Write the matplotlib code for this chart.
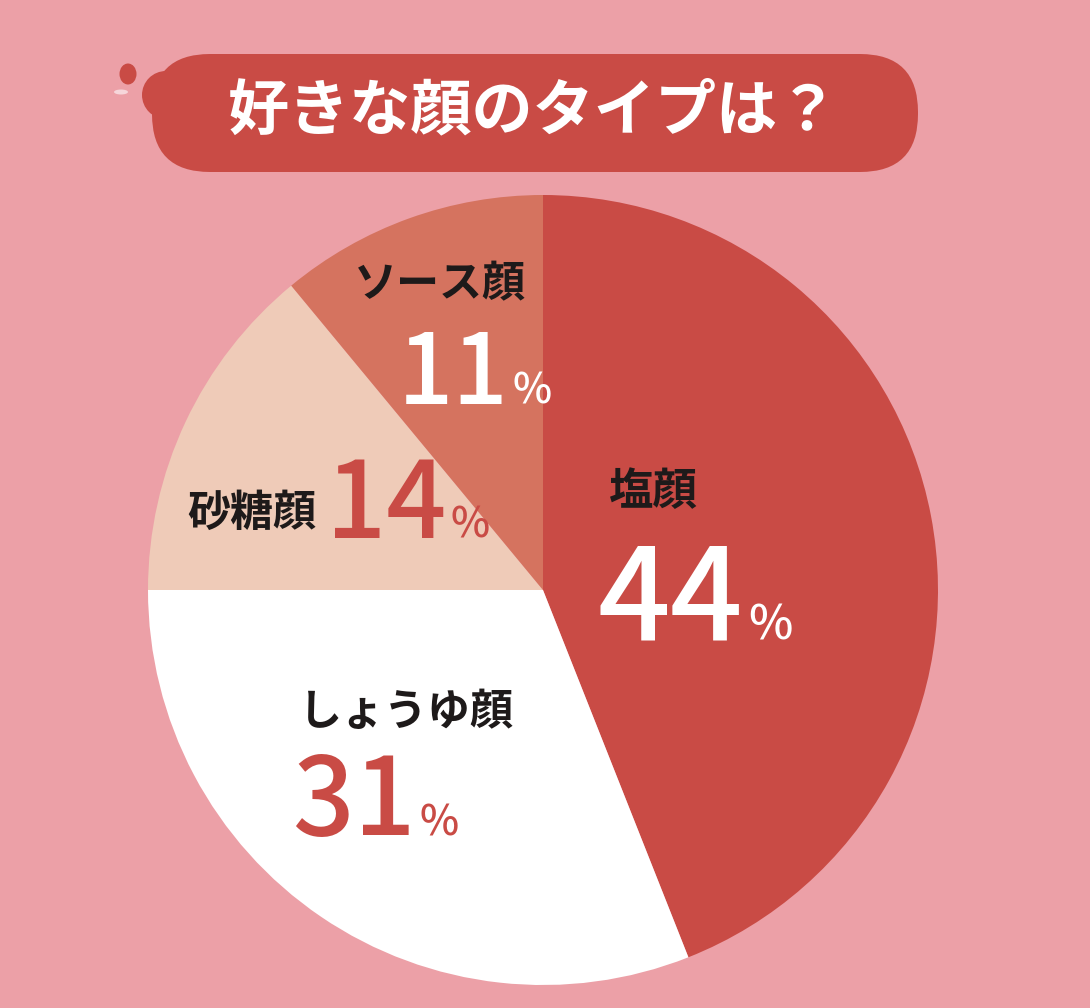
import matplotlib.pyplot as plt
from matplotlib.patches import FancyBboxPatch, Circle, Ellipse

plt.rcParams['font.family'] = ['Noto Sans CJK JP', 'DejaVu Sans']

title = '好きな顔のタイプは？'
labels = ['塩顔', 'しょうゆ顔', '砂糖顔', 'ソース顔']
values = [44, 31, 14, 11]
colors = ['#C94B45', '#FFFFFF', '#EFCBB8', '#D5735F']

bg = '#ECA0A7'
red = '#C94B45'
ink = '#1E1A1A'

W, H = 1090, 1008
fig = plt.figure(figsize=(W / 100, H / 100), dpi=100)
fig.patch.set_facecolor(bg)
ax = fig.add_axes([0, 0, 1, 1])

# pie, clockwise from 12 o'clock
ax.pie(values, colors=colors, startangle=90, counterclock=False,
       center=(543, H - 590), radius=395, wedgeprops={'linewidth': 0},
       frame=True)
ax.set_xlim(0, W)
ax.set_ylim(0, H)
ax.set_aspect('equal')
ax.axis('off')

# title bubble
ax.add_patch(FancyBboxPatch((152, H - 172), 766, 118,
                            boxstyle='round,pad=0,rounding_size=58',
                            fc=red, ec='none'))
ax.add_patch(Circle((166, H - 95), 24, fc=red, ec='none'))
ax.add_patch(Ellipse((128, H - 74), 17, 21, fc=red, ec='none'))
ax.add_patch(Ellipse((121, H - 92), 14, 5, fc='#F6D6DA', ec='none'))
ax.text(533, H - 112, title, color='white', fontsize=44, fontweight='bold',
        ha='center', va='center')

# slice labels
def name(x, y, s, size=31):
    ax.text(x, H - y, s, color=ink, fontsize=size, fontweight='bold',
            ha='center', va='center')

pcts = []
def pct(x, y, v, col, size, psize):
    t = ax.text(x, H - y, str(v), color=col, fontsize=size,
                fontweight='medium', ha='left', va='baseline')
    pcts.append((t, y, col, psize))

name(653, 492, labels[0], 32)
pct(598, 640, values[0], 'white', 92, 34)

name(406, 712, labels[1], 31)
pct(292, 835, values[1], red, 78, 30)

name(252, 513, labels[2], 31)
pct(326, 538, values[2], red, 76, 30)

name(440, 284, labels[3], 31)
pct(398, 404, values[3], 'white', 70, 30)

# put each % right after its number
fig.canvas.draw()
r = fig.canvas.get_renderer()
for t, y, col, psize in pcts:
    bb = t.get_window_extent(r)
    ax.text(bb.x1 + 4, H - y, '%', color=col, fontsize=psize,
            fontweight='medium', ha='left', va='baseline')

fig.savefig('out.png', dpi=100, facecolor=bg)
